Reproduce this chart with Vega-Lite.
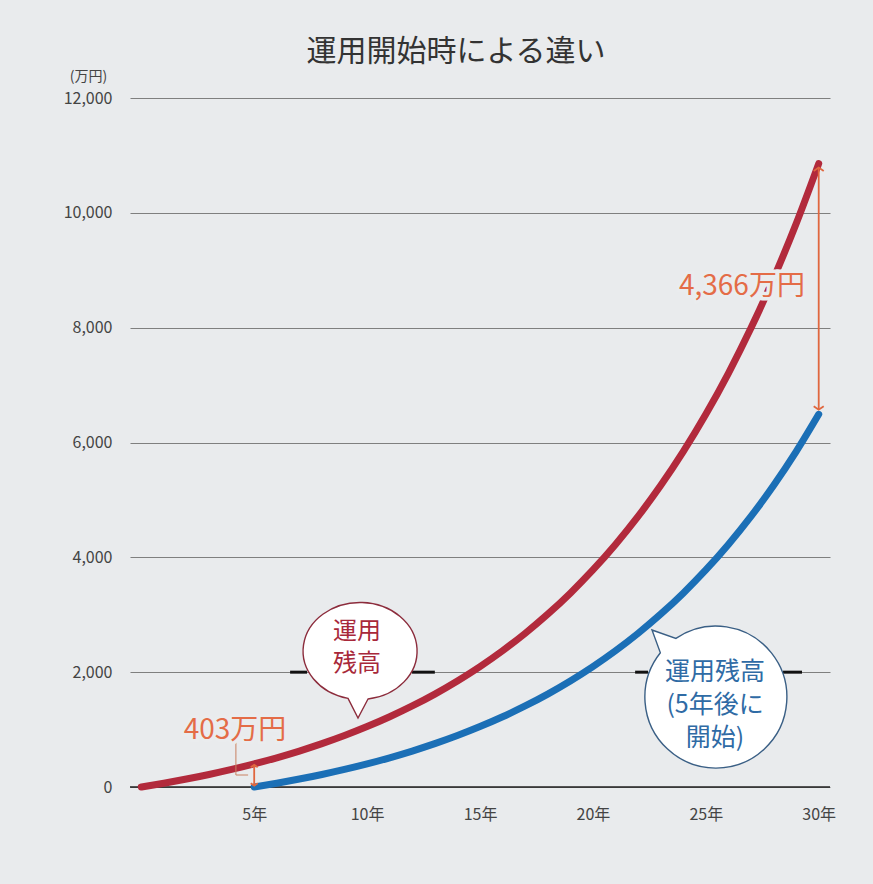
{
  "$schema": "https://vega.github.io/schema/vega-lite/v6.json",
  "width": 700,
  "height": 689,
  "autosize": {"type": "none"},
  "padding": {"left": 130, "top": 98, "right": 43, "bottom": 97},
  "background": "#e9ebed",
  "config": {"view": {"stroke": null}, "font": "Noto Sans CJK JP"},
  "title": {"text": "運用開始時による違い", "fontSize": 30, "fontWeight": "normal", "color": "#333333", "anchor": "middle", "frame": "group", "offset": 2, "dx": -24, "font": "Noto Sans CJK JP"},
  "datasets": {
    "growth": [
      {"year": 0, "series": "運用残高", "value": 0},
      {"year": 1, "series": "運用残高", "value": 66},
      {"year": 2, "series": "運用残高", "value": 138.6},
      {"year": 3, "series": "運用残高", "value": 218.5},
      {"year": 4, "series": "運用残高", "value": 306.3},
      {"year": 5, "series": "運用残高", "value": 402.9},
      {"year": 6, "series": "運用残高", "value": 509.2},
      {"year": 7, "series": "運用残高", "value": 626.2},
      {"year": 8, "series": "運用残高", "value": 754.8},
      {"year": 9, "series": "運用残高", "value": 896.2},
      {"year": 10, "series": "運用残高", "value": 1051.9},
      {"year": 11, "series": "運用残高", "value": 1223.1},
      {"year": 12, "series": "運用残高", "value": 1411.4},
      {"year": 13, "series": "運用残高", "value": 1618.5},
      {"year": 14, "series": "運用残高", "value": 1846.4},
      {"year": 15, "series": "運用残高", "value": 2097.0},
      {"year": 16, "series": "運用残高", "value": 2372.7},
      {"year": 17, "series": "運用残高", "value": 2675.9},
      {"year": 18, "series": "運用残高", "value": 3009.5},
      {"year": 19, "series": "運用残高", "value": 3376.5},
      {"year": 20, "series": "運用残高", "value": 3780.1},
      {"year": 21, "series": "運用残高", "value": 4224.2},
      {"year": 22, "series": "運用残高", "value": 4712.6},
      {"year": 23, "series": "運用残高", "value": 5249.8},
      {"year": 24, "series": "運用残高", "value": 5840.8},
      {"year": 25, "series": "運用残高", "value": 6490.9},
      {"year": 26, "series": "運用残高", "value": 7206.0},
      {"year": 27, "series": "運用残高", "value": 7992.6},
      {"year": 28, "series": "運用残高", "value": 8857.9},
      {"year": 29, "series": "運用残高", "value": 9809.6},
      {"year": 30, "series": "運用残高", "value": 10856.6},
      {"year": 5, "series": "運用残高(5年後に開始)", "value": 0},
      {"year": 6, "series": "運用残高(5年後に開始)", "value": 66},
      {"year": 7, "series": "運用残高(5年後に開始)", "value": 138.6},
      {"year": 8, "series": "運用残高(5年後に開始)", "value": 218.5},
      {"year": 9, "series": "運用残高(5年後に開始)", "value": 306.3},
      {"year": 10, "series": "運用残高(5年後に開始)", "value": 402.9},
      {"year": 11, "series": "運用残高(5年後に開始)", "value": 509.2},
      {"year": 12, "series": "運用残高(5年後に開始)", "value": 626.2},
      {"year": 13, "series": "運用残高(5年後に開始)", "value": 754.8},
      {"year": 14, "series": "運用残高(5年後に開始)", "value": 896.2},
      {"year": 15, "series": "運用残高(5年後に開始)", "value": 1051.9},
      {"year": 16, "series": "運用残高(5年後に開始)", "value": 1223.1},
      {"year": 17, "series": "運用残高(5年後に開始)", "value": 1411.4},
      {"year": 18, "series": "運用残高(5年後に開始)", "value": 1618.5},
      {"year": 19, "series": "運用残高(5年後に開始)", "value": 1846.4},
      {"year": 20, "series": "運用残高(5年後に開始)", "value": 2097.0},
      {"year": 21, "series": "運用残高(5年後に開始)", "value": 2372.7},
      {"year": 22, "series": "運用残高(5年後に開始)", "value": 2675.9},
      {"year": 23, "series": "運用残高(5年後に開始)", "value": 3009.5},
      {"year": 24, "series": "運用残高(5年後に開始)", "value": 3376.5},
      {"year": 25, "series": "運用残高(5年後に開始)", "value": 3780.1},
      {"year": 26, "series": "運用残高(5年後に開始)", "value": 4224.2},
      {"year": 27, "series": "運用残高(5年後に開始)", "value": 4712.6},
      {"year": 28, "series": "運用残高(5年後に開始)", "value": 5249.8},
      {"year": 29, "series": "運用残高(5年後に開始)", "value": 5840.8},
      {"year": 30, "series": "運用残高(5年後に開始)", "value": 6490.9}
    ],
    "baseline": [{"x1": -0.5, "x2": 30.5, "y": 0}],
    "segments": [
      {"x1": 6.59, "x2": 7.34, "y": 2000},
      {"x1": 11.99, "x2": 13.0, "y": 2000},
      {"x1": 21.87, "x2": 22.44, "y": 2000},
      {"x1": 28.42, "x2": 29.26, "y": 2000}
    ],
    "arrows": [
      {"x": 30, "y": 10790, "y2": 6570},
      {"x": 5, "y": 385, "y2": 22}
    ],
    "arrowheads": [
      {"x": 30, "y": 10790, "dir": "up", "big": "yes"},
      {"x": 30, "y": 6570, "dir": "down", "big": "yes"},
      {"x": 5, "y": 385, "dir": "up", "big": "no"},
      {"x": 5, "y": 22, "dir": "down", "big": "no"}
    ],
    "leader": [
      {"x": 4.19, "y": 818, "order": 1},
      {"x": 4.19, "y": 209, "order": 2},
      {"x": 4.73, "y": 209, "order": 3}
    ],
    "amounts": [
      {"x": 26.6, "y": 8708, "label": "4,366万円"},
      {"x": 4.15, "y": 975, "label": "403万円"}
    ],
    "bubbleRed": [{"x": 9.686, "y": 2369, "label": "運用\n残高", "tx": 9.55, "ty": 2700}],
    "bubbleBlue": [{"x": 25.45, "y": 1567, "label": "運用残高\n(5年後に\n開始)", "tx": 25.41, "ty": 2003}]
  },
  "layer": [
    {
      "data": {"name": "baseline"},
      "mark": {"type": "rule", "color": "#222222", "strokeWidth": 1.6},
      "encoding": {
        "x": {"field": "x1", "type": "quantitative"},
        "x2": {"field": "x2"},
        "y": {"field": "y", "type": "quantitative"}
      }
    },
    {
      "data": {"name": "segments"},
      "mark": {"type": "rule", "color": "#111111", "strokeWidth": 3},
      "encoding": {
        "x": {"field": "x1", "type": "quantitative"},
        "x2": {"field": "x2"},
        "y": {"field": "y", "type": "quantitative"}
      }
    },
    {
      "data": {"name": "growth"},
      "mark": {"type": "line", "strokeWidth": 7, "strokeCap": "round", "strokeJoin": "round", "interpolate": "monotone"},
      "encoding": {
        "x": {"field": "year", "type": "quantitative",
          "scale": {"domain": [-0.5, 30.5], "nice": false, "zero": false},
          "axis": {"values": [5, 10, 15, 20, 25, 30], "labelExpr": "datum.value + '年'", "domain": false, "ticks": false, "grid": false, "labelFontSize": 16, "labelColor": "#444444", "labelPadding": 19, "title": null, "labelFont": "Noto Sans CJK JP"}},
        "y": {"field": "value", "type": "quantitative",
          "scale": {"domain": [0, 12000], "nice": false},
          "axis": {"values": [0, 2000, 4000, 6000, 8000, 10000, 12000], "format": ",d", "domain": false, "ticks": false, "grid": true, "gridColor": "#7f7f7f", "gridWidth": 1.2, "labelFontSize": 16, "labelColor": "#444444", "labelPadding": 18, "labelFont": "Noto Sans CJK JP", "title": "(万円)", "titleAngle": 0, "titleX": -42, "titleY": -22, "titleAlign": "center", "titleBaseline": "middle", "titleFontSize": 14, "titleFontWeight": "normal", "titleColor": "#444444", "titleFont": "Noto Sans CJK JP"}},
        "color": {"field": "series", "type": "nominal", "scale": {"domain": ["運用残高", "運用残高(5年後に開始)"], "range": ["#b22a3c", "#1b6fb6"]}, "legend": null}
      }
    },
    {
      "data": {"name": "leader"},
      "mark": {"type": "line", "color": "#c98062", "strokeWidth": 1},
      "encoding": {
        "x": {"field": "x", "type": "quantitative"},
        "y": {"field": "y", "type": "quantitative"},
        "order": {"field": "order", "type": "quantitative"}
      }
    },
    {
      "data": {"name": "arrows"},
      "mark": {"type": "rule", "color": "#e0673f", "strokeWidth": 1.8},
      "encoding": {
        "x": {"field": "x", "type": "quantitative"},
        "y": {"field": "y", "type": "quantitative"},
        "y2": {"field": "y2"}
      }
    },
    {
      "data": {"name": "arrowheads"},
      "mark": {"type": "point", "filled": false, "stroke": "#e0673f", "strokeWidth": 1.8, "opacity": 1},
      "encoding": {
        "x": {"field": "x", "type": "quantitative"},
        "y": {"field": "y", "type": "quantitative"},
        "shape": {"field": "dir", "type": "nominal", "scale": {"domain": ["up", "down"], "range": ["M -1 0.7 L 0 0 L 1 0.7", "M -1 -0.7 L 0 0 L 1 -0.7"]}, "legend": null},
        "size": {"field": "big", "type": "nominal", "scale": {"domain": ["yes", "no"], "range": [100, 49]}, "legend": null}
      }
    },
    {
      "data": {"name": "amounts"},
      "mark": {"type": "text", "fontSize": 28, "font": "Noto Sans CJK JP", "stroke": "#eaecee", "strokeWidth": 7, "fill": "#eaecee", "align": "center", "baseline": "middle"},
      "encoding": {
        "x": {"field": "x", "type": "quantitative"},
        "y": {"field": "y", "type": "quantitative"},
        "text": {"field": "label"}
      }
    },
    {
      "data": {"name": "amounts"},
      "mark": {"type": "text", "fontSize": 28, "font": "Noto Sans CJK JP", "color": "#e46c47", "align": "center", "baseline": "middle"},
      "encoding": {
        "x": {"field": "x", "type": "quantitative"},
        "y": {"field": "y", "type": "quantitative"},
        "text": {"field": "label"}
      }
    },
    {
      "data": {"name": "bubbleRed"},
      "mark": {"type": "point", "shape": "M 0.14 0.843 A 1 0.851 0 1 0 -0.21 0.832 L -0.035 1.175 Z", "size": 12996, "filled": true, "fill": "#ffffff", "stroke": "#8c2c3c", "strokeWidth": 1.4, "opacity": 1, "fillOpacity": 1},
      "encoding": {
        "x": {"field": "x", "type": "quantitative"},
        "y": {"field": "y", "type": "quantitative"}
      }
    },
    {
      "data": {"name": "bubbleRed"},
      "mark": {"type": "text", "fontSize": 24, "font": "Noto Sans CJK JP", "color": "#a8283a", "align": "center", "baseline": "middle", "lineBreak": "\n", "lineHeight": 32},
      "encoding": {
        "x": {"field": "tx", "type": "quantitative"},
        "y": {"field": "ty", "type": "quantitative"},
        "text": {"field": "label"}
      }
    },
    {
      "data": {"name": "bubbleBlue"},
      "mark": {"type": "point", "shape": "M -0.564 -0.826 A 1 1 0 1 1 -0.783 -0.623 L -0.901 -0.944 Z", "size": 20164, "filled": true, "fill": "#ffffff", "stroke": "#3a5f85", "strokeWidth": 1.4, "opacity": 1, "fillOpacity": 1},
      "encoding": {
        "x": {"field": "x", "type": "quantitative"},
        "y": {"field": "y", "type": "quantitative"}
      }
    },
    {
      "data": {"name": "bubbleBlue"},
      "mark": {"type": "text", "fontSize": 25, "font": "Noto Sans CJK JP", "color": "#2f6ba5", "align": "center", "baseline": "middle", "lineBreak": "\n", "lineHeight": 33},
      "encoding": {
        "x": {"field": "tx", "type": "quantitative"},
        "y": {"field": "ty", "type": "quantitative"},
        "text": {"field": "label"}
      }
    }
  ]
}
